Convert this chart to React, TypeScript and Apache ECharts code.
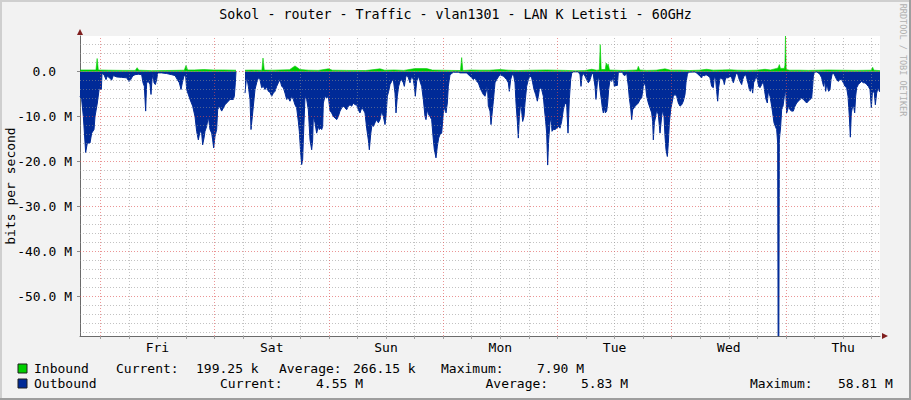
import React, { useEffect, useRef } from "react";
import * as echarts from "echarts";

// ---------- data ----------
const TITLE = "Sokol - router - Traffic - vlan1301 - LAN K Letisti - 60GHz";
const Y_NAME = "bits per second";
const WATERMARK = "RRDTOOL / TOBI OETIKER";

const SPAN_HOURS = 168; // graph covers 7 days, x = hours since graph start
const FIRST_MIDNIGHT = 4.26; // Fri 00:00, hours after graph start
const DAY_NAMES = ["Fri", "Sat", "Sun", "Mon", "Tue", "Wed", "Thu"];

const Y_MIN = -58.81; // M, = -(outbound maximum)
const Y_MAX = 7.9; // M, = inbound maximum
const Y_MAJOR = [-50, -40, -30, -20, -10, 0];
const Y_MINOR = [-58, -56, -54, -52, -48, -46, -44, -42, -38, -36, -34, -32, -28, -26, -24, -22, -18, -16, -14, -12, -8, -6, -4, -2, 2, 4, 6];

// [hours since start, Mbit/s] (outbound drawn negative)
const OUTBOUND: [number, number | null][] = [
  [0,-5.5],[0.35,-6.2],[0.7,-10],[1.19,-18],[1.54,-15.9],[2.1,-15.9],[2.45,-13.7],[2.94,-12.9],[3.15,-10],[3.64,-7],[4.06,-3.6],[4.27,-4],[4.48,-4],[4.62,-0.4],[5.04,-0.7],[5.46,-1.8],[5.74,-1],[6.16,-1.4],[6.65,-1.9],[7,-0.9],[7.7,-1.2],[8.75,-1.3],[9.8,-1.4],[10.29,-2.2],[10.64,-1.8],[11.06,-1],[11.55,-0.7],[12.25,-0.6],[12.95,-0.7],[13.23,-2.5],[13.51,-3.3],[13.79,-8.8],[14,-2.5],[14.35,-2.2],[14.7,-2.9],[14.91,-5.1],[15.12,-1.8],[15.33,-0.4],[15.54,-2.5],[15.82,-2.9],[16.1,-1.8],[16.31,-0.3],[17.15,-0.3],[18.2,-0.45],[19.25,-0.7],[19.95,-0.9],[20.44,-1.8],[20.86,-2.5],[21.21,-4],[21.49,-2.5],[21.84,-0.9],[22.19,-1],[22.4,-4],[23.1,-6.2],[23.66,-7.7],[24.15,-10],[24.5,-13.3],[24.85,-15.2],[25.2,-13.3],[25.55,-13.7],[25.76,-16.3],[26.04,-14.8],[26.25,-13.3],[26.6,-12.2],[26.95,-10],[27.3,-12.9],[27.65,-13.7],[27.86,-15.2],[28.07,-17],[28.35,-14.4],[28.7,-12.9],[28.91,-8.5],[29.26,-7.7],[29.75,-8.8],[30.1,-8.1],[30.45,-7.4],[30.8,-7],[31.5,-6.2],[32.2,-6.2],[32.41,-5.5],[32.62,-2.5],[32.76,0],[33.7,null],
  [34.65,-4.8],[35,-1],[35.35,-3.3],[35.7,-6.2],[35.91,-12.9],[36.19,-10],[36.4,-7.7],[36.75,-4],[37.1,-2.5],[37.45,-1.4],[37.8,-1.8],[38.15,-3.6],[38.5,-3.3],[38.85,-4],[39.2,-3.4],[39.55,-4.4],[39.9,-4.6],[40.25,-5.5],[40.6,-4.8],[40.95,-4.4],[41.3,-3.3],[41.65,-2.5],
  [42,-1.8],[42.35,-3.3],[42.7,-3.6],[43.05,-4.8],[43.4,-6.2],[43.75,-5.9],[44.1,-6.6],[44.45,-5.5],[44.8,-6.2],[45.15,-7.4],[45.5,-8.1],[45.85,-11.1],[46.06,-13.3],[46.34,-18.1],[46.55,-20.7],[46.76,-19.6],[46.9,-15.2],[47.25,-5.5],[47.6,-6.2],[47.95,-8.5],[48.3,-15.2],[48.65,-17.4],[48.86,-15.2],[49,-10],[49.35,-11.4],[49.7,-13.7],[50.05,-12.2],[50.26,-12.9],[50.54,-12.6],[50.75,-12.9],[50.96,-12.2],[51.1,-7],[51.45,-5.5],[51.8,-5.9],[52.15,-5.5],[52.5,-8.8],[52.85,-9.2],[53.2,-10],[53.55,-10.3],[53.9,-10.7],[54.25,-10],[54.6,-8.8],[54.95,-8.1],[55.3,-7.7],[55.65,-8.1],[56,-8.5],[56.35,-7.7],[56.7,-7.4],[57.05,-7.7],[57.4,-7],[57.75,-7.4],[58.1,-7.4],[58.45,-8.5],[58.8,-9.2],[59.15,-8.1],[59.5,-8.5],[59.85,-9.2],[60.2,-12.6],[60.55,-15.2],[60.76,-17.4],[61.04,-14],[61.32,-11.8],[61.6,-12.2],[61.95,-11.4],[62.3,-10.7],[62.65,-11.4],[63,-10.7],[63.35,-8.8],[63.7,-10],[64.05,-11.8],[64.26,-10],[64.54,-5.5],[64.82,-4.4],[65.1,-2.9],[65.45,-2.2],[65.8,-1.8],[66.15,-4.8],[66.36,-9.2],[66.64,-5.5],[66.92,-3.3],[67.2,-2.2],[67.55,-1.8],[67.9,-2.5],[68.11,-3.3],[68.39,-1.4],[68.6,-0.7],[68.95,-1.4],[69.3,-2.5],[69.65,-1],[70,-1.8],[70.21,-3.3],[70.42,-5.5],[70.7,-2.2],[71.05,-1],[71.4,-2.2],[71.75,-3.3],[72.1,-6.2],[72.45,-10],[72.66,-10.7],[72.94,-8.5],[73.22,-9.6],[73.5,-10],[73.85,-10.7],[74.2,-15.2],[74.41,-17.4],[74.76,-19.2],[75.04,-16.6],[75.32,-14.8],[75.6,-14],[75.95,-13.7],[76.3,-9.2],[76.65,-7.7],[76.86,-9.2],[77.14,-7],[77.35,-3.3],[77.7,-0.7],[78.05,-0.45],[78.4,-0.15],[79.45,-0.15],[79.8,-0.3],[81.2,-0.3],[81.55,-0.7],[81.9,-1],[82.25,-1.4],[82.6,-1.8],[82.95,-1.4],[83.3,-2.2],[83.65,-2.5],
  [84,-3.6],[84.35,-4.4],[84.7,-5.1],[85.05,-5.5],[85.4,-4],[85.54,-2.5],[85.75,-7.7],[86.1,-8.8],[86.31,-11.8],[86.59,-8.8],[86.8,-6.6],[87.15,-2.5],[87.5,-1.8],[87.85,-1.2],[88.2,-0.7],[88.55,-0.9],[88.9,-1],[89.25,-1.4],[89.6,-1.8],[89.95,-2.5],[90.16,-4.4],[90.44,-1.8],[90.65,-1],[91,-0.45],[91.35,-2.5],[91.56,-7],[91.84,-11.1],[92.05,-14.8],[92.26,-10],[92.54,-7],[92.75,-8.8],[92.96,-11.1],[93.24,-10],[93.45,-7],[93.8,-3.3],[94.15,-1.8],[94.5,-1],[94.85,-1.4],[95.06,-2.5],[95.34,-4],[95.69,-5.1],[96.04,-6.6],[96.25,-5.5],[96.46,-4],[96.74,-3.6],[96.95,-4],[97.3,-5.5],[97.51,-8.1],[97.79,-11.1],[98,-13.7],[98.21,-20.8],[98.42,-15.2],[98.7,-11.4],[98.91,-10],[99.12,-13.3],[99.4,-12.9],[99.75,-12.9],[100.1,-12.6],[100.45,-12.2],[100.8,-12.6],[101.15,-11.1],[101.5,-8.5],[101.85,-7],[102.2,-7.4],[102.48,-13.7],[102.76,-6.2],[103.04,-1.8],[103.25,-0.45],[103.6,-0.07],[104.65,-0.07],[105,-0.7],[105.21,-3.3],[105.42,-1],[105.7,-0.45],[106.05,-1],[106.4,-1.8],[106.75,-2.5],[106.96,-2.2],[107.24,-1.4],[107.52,-0.3],[107.8,-0.7],[108.15,-3.3],[108.36,-6.2],[108.64,-2.5],[108.92,-1],[109.2,-4],[109.48,-6.2],[109.69,-8.1],[109.9,-9.2],[110.11,-8.1],[110.32,-9.2],[110.6,-8.8],[110.81,-7],[111.02,-4],[111.3,-1.8],[111.65,-2.2],[112,-1],[112.21,-3.3],[112.56,-3.1],[112.84,-3.1],[113.05,-0.15],[113.96,-0.15],[114.1,-0.7],[114.45,-0.9],[114.8,-0.3],[115.15,-3.3],[115.36,-5.9],[115.64,-8.1],[115.85,-10.7],[116.06,-8.5],[116.34,-8.1],[116.55,-7.7],[116.9,-7.4],[117.25,-7],[117.6,-6.2],[117.95,-5.9],[118.3,-3.3],[118.58,-2.5],[118.79,-3.3],[119,-5.5],[119.35,-7],[119.7,-8.1],[120.05,-9.2],[120.26,-11.1],[120.4,-15.2],[120.61,-11.4],[120.89,-10],[121.1,-8.5],[121.45,-9.6],[121.8,-13.7],[122.15,-10],[122.36,-8.5],[122.64,-10],[122.85,-14.4],[123.06,-17.4],[123.34,-18.9],[123.55,-15.9],[123.76,-11.4],[124.04,-8.5],[124.32,-7],[124.6,-5.5],[124.95,-5.1],[125.3,-5.5],[125.65,-7],
  [126,-7.7],[126.35,-7.4],[126.7,-6.6],[127.05,-5.1],[127.26,-2.5],[127.54,-0.7],[127.75,-0.15],[129.15,-0.1],[129.5,-0.3],[129.85,-0.7],[130.2,-1],[130.55,-1.4],[130.76,-0.7],[131.04,-1],[131.46,-0.7],[131.95,-1],[132.3,-1.4],[132.65,-3.3],[133,-3.6],[133.21,-1],[133.49,-1.8],[133.7,-4.4],[133.91,-6.6],[134.12,-3.6],[134.4,-1.4],[134.75,-1.6],[135.1,-1.8],[135.31,-2.9],[135.59,-1.4],[136.15,-1.4],[136.5,-1],[136.85,-1.4],[137.2,-2.5],[137.41,-1.8],[137.69,-0.7],[138.04,-0.3],[138.32,-1.4],[138.6,-2.2],[138.95,-2.9],[139.16,-1.8],[139.44,-1],[139.79,-0.7],[140,-1.4],[140.35,-2.9],[140.56,-4],[140.77,-4.4],[141.05,-3.3],[141.26,-4.8],[141.47,-2.5],[141.75,-1.8],[141.96,-1],[142.24,-1.8],[142.52,-3.3],[142.8,-3.6],[143.15,-2.9],[143.5,-2.2],[143.78,-4.4],[144.06,-6.2],[144.34,-7],[144.55,-4.4],[144.9,-5.5],[145.25,-7.7],[145.46,-9.2],[145.74,-11.4],[146.02,-12.2],[146.3,-12.9],[146.51,-15.9],[146.6,-58.81],[146.76,-58.81],[146.86,-15.2],[147.14,-12.2],[147.35,-8.5],[147.63,-7.7],[147.91,-5.5],[148.19,-4],[148.4,-9.2],[148.61,-8.5],[148.82,-7.7],[149.1,-8.5],[149.45,-8.8],[149.8,-8.8],[150.15,-7.7],[150.5,-7],[150.85,-6.6],[151.2,-6.2],[151.55,-5.9],[151.9,-6.2],[152.25,-6.6],[152.6,-7],[152.95,-6.6],[153.3,-6.2],[153.65,-5.9],[153.86,-3.3],[154,-1],[154.21,-0.15],[154.7,-0.1],[155.05,-0.3],[155.4,-0.7],[155.75,-1.4],[155.96,-2.5],[156.17,-3.3],[156.38,-1.8],[156.59,-4.4],[156.8,-2.9],[157.01,-3.6],[157.22,-4.4],[157.5,-4],[157.71,-1.8],[157.92,-0.7],[158.2,-0.3],[158.55,-1],[158.9,-1.8],[159.25,-2.2],[159.6,-1.8],[159.95,-1.8],[160.3,-2.5],[160.65,-3.3],[161,-3.6],[161.28,-5.5],[161.56,-10],[161.77,-14.6],[161.98,-9.2],[162.26,-7.7],[162.47,-7.7],[162.68,-9.2],[162.89,-5.5],[163.1,-3.6],[163.45,-2.9],[163.8,-2.5],[164.15,-2.2],[164.5,-2.5],[164.85,-2.5],[165.2,-2.9],[165.55,-3.3],[165.9,-4],[166.18,-8.1],[166.39,-4.8],[166.6,-4.4],[166.81,-4.8],[167.02,-7.4],[167.3,-4.8],[167.58,-3.6],[167.86,-4.4],[168,-4.55],
];

const INBOUND: [number, number | null][] = [
  [0,0.35],[3.35,0.35],[3.6,2.9],[3.85,0.35],[6,0.3],[9,0.25],[11.6,0.25],[12,0.85],[12.35,0.3],[15,0.2],[18,0.22],[21.9,0.3],[22.26,1.35],[22.6,0.35],[24,0.35],[26,0.45],[28,0.35],[30,0.35],[32.76,0.3],[33.7,null],
  [34.65,0.3],[36,0.32],[38.2,0.3],[38.43,3.0],[38.7,0.32],[40.5,0.3],[42,0.35],[44,0.4],[45.15,1.25],[46.2,0.45],[48,0.3],[50,0.25],[52.15,0.6],[53,0.3],[56,0.25],[60,0.22],[63,0.6],[64,0.3],[66,0.35],[68,0.25],[70.3,0.65],[72.8,0.65],[74,0.32],[76,0.3],[78,0.25],[79.9,0.22],[80.15,3.1],[80.4,0.22],[82,0.35],[84,0.3],[86,0.3],[88.2,0.45],[90,0.3],[92,0.22],[95,0.3],[98,0.35],[100,0.3],[102,0.25],[104,0.15],[106,0.22],[107.45,0.5],[108.5,0.3],[109.05,0.35],[109.25,6.0],[109.45,0.45],[110.3,0.45],[110.5,1.9],[110.7,1.15],[110.9,1.7],[111.2,0.35],[112.5,0.3],[114,0.22],[116,0.3],[117,0.35],[117.25,1.15],[117.55,0.35],[119,0.25],[121,0.3],[122.85,0.6],[124,0.3],[126,0.3],[128,0.22],[130,0.3],[131.6,0.5],[133,0.3],[136.5,0.4],[138,0.3],[140,0.25],[142,0.3],[143.85,0.5],[145,0.35],[146.3,0.7],[146.6,0.8],[146.86,1.55],[147.1,0.7],[147.9,0.7],[148.03,1.4],[148.15,7.9],[148.3,0.45],[149,0.3],[151,0.3],[153,0.25],[155,0.3],[157,0.35],[160,0.3],[163,0.25],[166.2,0.3],[166.46,0.95],[166.7,0.3],[168,0.2],
];

const SERIES_NAMES = ["Inbound", "Outbound"];
const SERIES_COLORS = ["#00CF00", "#002A97"];
const STAT_LABELS = ["Current:", "Average:", "Maximum:"];
const IN_STATS = ["199.25 k", "266.15 k", "7.90 M"];
const OUT_STATS = ["4.55 M", "5.83 M", "58.81 M"];

// ---------- layout / style ----------
const W = 911;
const H = 400;
const FONT = "'DejaVu Sans Mono', monospace";
const GRID_MINOR = "rgba(143,143,143,0.55)";
const GRID_MAJOR = "rgba(222,79,79,0.6)";
const AXIS_COLOR = "#6a6a6a";
const ARROW_COLOR = "#801f1f";
const ROW_Y = [368.5, 383.5];
// x positions (label, value) for each of the three statistics, per row
const ROW_X = [
  [116, 196, 279, 353, 441, 537],
  [220, 316, 485.5, 581, 750, 838],
];

function buildOption() {
  const sixHourLines: number[] = [];
  for (let t = FIRST_MIDNIGHT; t < SPAN_HOURS; t += 6) sixHourLines.push(+t.toFixed(2));
  const midnights = sixHourLines.filter((_, i) => i % 4 === 0);
  const minorX = sixHourLines.filter((_, i) => i % 4 !== 0);
  const noons = DAY_NAMES.map((_, i) => FIRST_MIDNIGHT + 12 + 24 * i);

  const dash = [1, 2];
  const gridLines: any[] = [
    ...Y_MINOR.map((v) => ({ yAxis: v, lineStyle: { color: GRID_MINOR, type: dash, width: 1 } })),
    ...minorX.map((v) => ({ xAxis: v, lineStyle: { color: GRID_MINOR, type: dash, width: 1 } })),
    ...Y_MAJOR.map((v) => ({ yAxis: v, lineStyle: { color: GRID_MAJOR, type: dash, width: 1 } })),
    ...midnights.map((v) => ({ xAxis: v, lineStyle: { color: GRID_MAJOR, type: dash, width: 1 } })),
  ];

  const txt = (text: string, x: number, y: number, extra: any = {}) => ({
    type: "text",
    x,
    y,
    silent: true,
    style: {
      text,
      fill: "#000",
      fontFamily: FONT,
      fontSize: 13,
      align: "left",
      textAlign: "left",
      verticalAlign: "middle",
      textVerticalAlign: "middle",
      ...extra,
    },
  });

  const legend: any[] = [];
  const stats = [IN_STATS, OUT_STATS];
  SERIES_NAMES.forEach((name, r) => {
    legend.push({
      type: "rect",
      shape: { x: 18, y: ROW_Y[r] - 4.5, width: 9, height: 9 },
      style: { fill: SERIES_COLORS[r], stroke: "#1f1f1f", lineWidth: 1 },
      silent: true,
    });
    legend.push(txt(name, 34, ROW_Y[r]));
    STAT_LABELS.forEach((lab, k) => {
      legend.push(txt(lab, ROW_X[r][2 * k], ROW_Y[r]));
      legend.push(txt(stats[r][k], ROW_X[r][2 * k + 1], ROW_Y[r]));
    });
  });

  return {
    animation: false,
    backgroundColor: "#f2f2f2",
    textStyle: { fontFamily: FONT },
    grid: {
      left: 80,
      right: 31,
      top: 36,
      bottom: 64,
      show: true,
      backgroundColor: "#ffffff",
      borderWidth: 0,
      containLabel: false,
      outerBoundsMode: "none",
    },
    xAxis: {
      type: "value",
      min: 0,
      max: SPAN_HOURS,
      axisLine: { show: true, onZero: false, lineStyle: { color: AXIS_COLOR, width: 1 } },
      axisTick: {
        show: true,
        customValues: sixHourLines,
        length: 3,
        inside: false,
        lineStyle: { color: "#a0a0a0", width: 1 },
      },
      axisLabel: {
        show: true,
        customValues: noons,
        margin: 5,
        color: "#000",
        fontFamily: FONT,
        fontSize: 13,
        formatter: (v: number) => DAY_NAMES[Math.round((v - FIRST_MIDNIGHT - 12) / 24)] ?? "",
      },
      splitLine: { show: false },
      minorSplitLine: { show: false },
    },
    yAxis: {
      type: "value",
      min: Y_MIN,
      max: Y_MAX,
      axisLine: { show: true, onZero: false, lineStyle: { color: AXIS_COLOR, width: 1 } },
      axisTick: {
        show: true,
        customValues: Y_MAJOR,
        length: 3,
        lineStyle: { color: "#8a8a8a", width: 1 },
      },
      axisLabel: {
        show: true,
        customValues: Y_MAJOR,
        margin: 8,
        color: "#000",
        fontFamily: FONT,
        fontSize: 13,
        formatter: (v: number) => (v === 0 ? "{z|0.0}" : `${v.toFixed(1)} M`),
        rich: {
          z: { fontFamily: FONT, fontSize: 13, color: "#000", padding: [0, 16, 0, 0] },
        },
      },
      splitLine: { show: false },
    },
    series: [
      {
        name: SERIES_NAMES[1],
        type: "line",
        data: OUTBOUND,
        showSymbol: false,
        symbol: "none",
        connectNulls: false,
        lineStyle: { color: SERIES_COLORS[1], width: 1 },
        areaStyle: { color: SERIES_COLORS[1], opacity: 1 },
        z: 2,
        silent: true,
      },
      {
        name: SERIES_NAMES[0],
        type: "line",
        data: INBOUND,
        showSymbol: false,
        symbol: "none",
        connectNulls: false,
        lineStyle: { color: SERIES_COLORS[0], width: 0.6 },
        areaStyle: { color: SERIES_COLORS[0], opacity: 1 },
        z: 2,
        silent: true,
        markLine: {
          silent: true,
          symbol: ["none", "none"],
          label: { show: false },
          emphasis: { disabled: true },
          animation: false,
          data: gridLines,
        },
      },
    ],
    graphic: [
      // 3D frame
      { type: "rect", shape: { x: 0, y: 0, width: W, height: 2 }, style: { fill: "#cfcfcf" }, silent: true },
      { type: "rect", shape: { x: 0, y: 0, width: 2, height: H }, style: { fill: "#cfcfcf" }, silent: true },
      { type: "rect", shape: { x: 0, y: H - 2, width: W, height: 2 }, style: { fill: "#9e9e9e" }, silent: true },
      { type: "rect", shape: { x: W - 2, y: 0, width: 2, height: H }, style: { fill: "#9e9e9e" }, silent: true },
      // axis arrows
      {
        type: "polygon",
        shape: { points: [[77, 35], [83, 35], [80, 29]] },
        style: { fill: ARROW_COLOR },
        silent: true,
      },
      {
        type: "polygon",
        shape: { points: [[882, 333], [882, 339], [888, 336]] },
        style: { fill: ARROW_COLOR },
        silent: true,
      },
      txt(TITLE, W / 2, 14, { fontSize: 13.3, align: "center", textAlign: "center" }),
      {
        ...txt(Y_NAME, 10, 186, { align: "center", textAlign: "center" }),
        rotation: Math.PI / 2,
      },
      {
        ...txt(WATERMARK, 903, 60, { align: "center", textAlign: "center", fontSize: 8.5, fill: "#b0b0b0" }),
        rotation: -Math.PI / 2,
      },
      ...legend,
    ],
  };
}

export default function App() {
  const ref = useRef<HTMLDivElement>(null);
  useEffect(() => {
    if (!ref.current) return;
    const chart = echarts.init(ref.current, null, { renderer: "svg", width: W, height: H });
    chart.setOption(buildOption() as any);
    return () => chart.dispose();
  }, []);
  return (
    <div
      ref={ref}
      style={{ position: "fixed", left: 0, top: 0, width: W, height: H }}
    />
  );
}
